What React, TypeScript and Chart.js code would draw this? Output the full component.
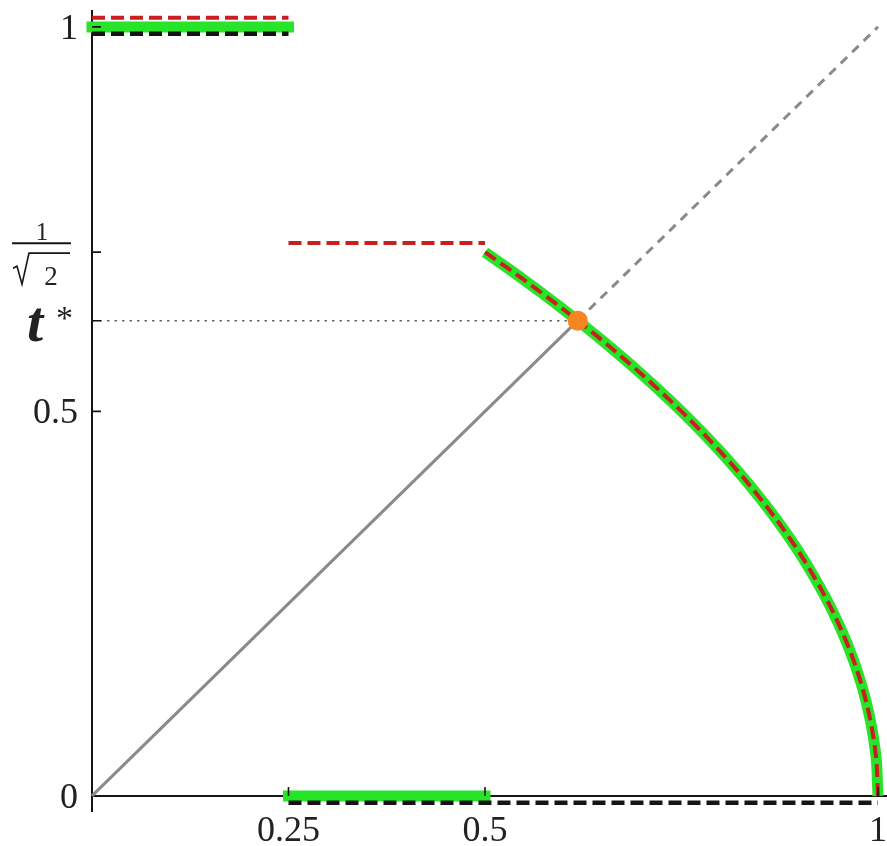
import { useEffect, useRef } from 'react';
import { Chart, registerables } from 'chart.js';

Chart.register(...registerables);

// Key values on the unit square
const T_STAR = 0.618;
const INV_SQRT2 = 0.7071;

// Piecewise-constant pieces
const upperX = [0, 0.25];
const upperY = [1, 1];
const middleX = [0.25, 0.5];
const redMiddleY = [INV_SQRT2, INV_SQRT2];
const greenMiddleY = [0, 0];
const blackTailX = [0.25, 1];
const blackTailY = [0, 0];

// Falling branch from (0.5, 1/√2) down to (1, 0)
const curveX = [0.5, 0.53, 0.56, 0.6, 0.618, 0.65, 0.7, 0.75, 0.8, 0.84, 0.88, 0.91, 0.94, 0.96, 0.975, 0.985, 0.992, 0.996, 0.9985, 1];
const curveY = [0.7071, 0.6856, 0.6633, 0.6325, 0.618, 0.5916, 0.5477, 0.5, 0.4472, 0.4, 0.3464, 0.3, 0.2449, 0.2, 0.1581, 0.1225, 0.0894, 0.0632, 0.0387, 0];

// Identity line, solid below the fixed point and dashed above it
const diagSolidX = [0, T_STAR];
const diagDashedX = [T_STAR, 1];

// Axis ticks
const xTickValues = [0.25, 0.5, 1];
const xTickLabels = ['0.25', '0.5', '1'];
const yTickValues = [0, 0.5, 1];
const yTickLabels = ['0', '0.5', '1'];
const ySpecialTicks = [T_STAR, INV_SQRT2];

// Small vertical separations so coincident pieces stay visible
const RED_LIFT = 0.012;
const BLACK_DROP = 0.009;

const pts = (xs: number[], ys: number[], dy = 0) => xs.map((x, i) => ({ x, y: ys[i] + dy }));

const GREEN = 'rgb(40,228,40)';
const RED = 'rgb(200,32,32)';
const BLACK = '#151515';
const GREY = '#8a8a8a';
const ORANGE = 'rgb(246,132,32)';

const SERIF = '"Liberation Serif", "DejaVu Serif", serif';

const axesPlugin = {
  id: 'handAxes',
  beforeDatasetsDraw(chart: any) {
    const { ctx, scales, chartArea } = chart;
    const xs = scales.x;
    const ys = scales.y;
    const x0 = xs.getPixelForValue(0);
    const y0 = ys.getPixelForValue(0);
    ctx.save();
    ctx.strokeStyle = BLACK;
    ctx.lineWidth = 2;
    ctx.beginPath();
    ctx.moveTo(x0, ys.getPixelForValue(1.022));
    ctx.lineTo(x0, ys.getPixelForValue(-0.021));
    ctx.moveTo(x0, y0);
    ctx.lineTo(chartArea.right, y0);
    ctx.stroke();
    ctx.restore();
  },
  afterDatasetsDraw(chart: any) {
    const { ctx, scales } = chart;
    const xs = scales.x;
    const ys = scales.y;
    const x0 = xs.getPixelForValue(0);
    const y0 = ys.getPixelForValue(0);
    ctx.save();
    ctx.strokeStyle = BLACK;
    ctx.lineWidth = 1.6;
    ctx.beginPath();
    xTickValues.forEach((v) => {
      const px = xs.getPixelForValue(v);
      ctx.moveTo(px, y0);
      ctx.lineTo(px, y0 - 9);
    });
    [...yTickValues.slice(1), ...ySpecialTicks].forEach((v) => {
      const py = ys.getPixelForValue(v);
      ctx.moveTo(x0, py);
      ctx.lineTo(x0 + 9, py);
    });
    ctx.stroke();

    ctx.fillStyle = '#222';
    ctx.font = `36px ${SERIF}`;
    ctx.textBaseline = 'alphabetic';
    ctx.textAlign = 'center';
    xTickValues.forEach((v, i) => {
      ctx.fillText(xTickLabels[i], xs.getPixelForValue(v), y0 + 45);
    });
    ctx.textAlign = 'right';
    yTickValues.forEach((v, i) => {
      ctx.fillText(yTickLabels[i], x0 - 14, ys.getPixelForValue(v) + 12);
    });

    // t* label
    const ty = ys.getPixelForValue(T_STAR);
    ctx.textAlign = 'left';
    ctx.font = `italic bold 58px ${SERIF}`;
    ctx.fillText('t', 27, ty + 20);
    ctx.font = `34px ${SERIF}`;
    ctx.fillText('*', 56, ty + 8);

    // 1/√2 label
    const fy = ys.getPixelForValue(INV_SQRT2);
    ctx.textAlign = 'center';
    ctx.font = `25px ${SERIF}`;
    ctx.fillText('1', 42, fy - 12);
    ctx.lineWidth = 2;
    ctx.beginPath();
    ctx.moveTo(12, fy - 9);
    ctx.lineTo(71, fy - 9);
    ctx.stroke();
    ctx.lineWidth = 1.6;
    ctx.beginPath();
    ctx.moveTo(13, fy + 16);
    ctx.lineTo(17, fy + 14);
    ctx.lineTo(22, fy + 32);
    ctx.lineTo(29, fy + 1);
    ctx.lineTo(70, fy + 1);
    ctx.stroke();
    ctx.font = `27px ${SERIF}`;
    ctx.fillText('2', 51, fy + 33);
    ctx.restore();
  },
};

export default function App() {
  const canvasRef = useRef<HTMLCanvasElement | null>(null);

  useEffect(() => {
    const canvas = canvasRef.current;
    if (!canvas) return;

    const lineBase = {
      pointRadius: 0,
      pointHoverRadius: 0,
      fill: false,
      clip: false as const,
    };

    const chart = new Chart(canvas, {
      type: 'line',
      data: {
        datasets: [
          {
            ...lineBase,
            label: 'fixed point',
            data: [{ x: T_STAR, y: T_STAR }],
            showLine: false,
            pointRadius: 10,
            pointBackgroundColor: ORANGE,
            pointBorderColor: ORANGE,
            pointBorderWidth: 0,
            order: 0,
          },
          {
            ...lineBase,
            label: 'red upper',
            data: pts(upperX, upperY, RED_LIFT),
            borderColor: RED,
            borderWidth: 4,
            borderDash: [13, 6],
            order: 1,
          },
          {
            ...lineBase,
            label: 'red middle',
            data: pts(middleX, redMiddleY, RED_LIFT),
            borderColor: RED,
            borderWidth: 4,
            borderDash: [13, 6],
            order: 1,
          },
          {
            ...lineBase,
            label: 'red curve',
            data: pts(curveX, curveY),
            borderColor: RED,
            borderWidth: 4,
            borderDash: [13, 6],
            cubicInterpolationMode: 'monotone' as const,
            order: 1,
          },
          {
            ...lineBase,
            label: 'black upper',
            data: pts(upperX, upperY, -BLACK_DROP),
            borderColor: BLACK,
            borderWidth: 4.5,
            borderDash: [13, 6],
            order: 2,
          },
          {
            ...lineBase,
            label: 'black tail',
            data: pts(blackTailX, blackTailY, -BLACK_DROP),
            borderColor: BLACK,
            borderWidth: 4.5,
            borderDash: [13, 6],
            order: 2,
          },
          {
            ...lineBase,
            label: 'green upper',
            data: pts(upperX, upperY),
            borderColor: GREEN,
            borderWidth: 11,
            borderCapStyle: 'square' as const,
            order: 3,
          },
          {
            ...lineBase,
            label: 'green middle',
            data: pts(middleX, greenMiddleY),
            borderColor: GREEN,
            borderWidth: 11,
            borderCapStyle: 'square' as const,
            order: 3,
          },
          {
            ...lineBase,
            label: 'green curve',
            data: pts(curveX, curveY),
            borderColor: GREEN,
            borderWidth: 11,
            borderCapStyle: 'butt' as const,
            cubicInterpolationMode: 'monotone' as const,
            order: 3,
          },
          {
            ...lineBase,
            label: 'diagonal solid',
            data: pts(diagSolidX, diagSolidX),
            borderColor: GREY,
            borderWidth: 3,
            order: 4,
          },
          {
            ...lineBase,
            label: 'diagonal dashed',
            data: pts(diagDashedX, diagDashedX),
            borderColor: GREY,
            borderWidth: 3,
            borderDash: [9, 7],
            order: 4,
          },
          {
            ...lineBase,
            label: 't* guide',
            data: [{ x: 0, y: T_STAR }, { x: T_STAR, y: T_STAR }],
            borderColor: '#666',
            borderWidth: 1.5,
            borderDash: [2.5, 5],
            order: 5,
          },
        ],
      },
      options: {
        animation: false,
        responsive: false,
        devicePixelRatio: 1,
        parsing: false as any,
        normalized: true,
        layout: { autoPadding: false, padding: { left: 92, right: 0, top: 0, bottom: 27 } },
        plugins: {
          legend: { display: false },
          tooltip: { enabled: false },
        },
        events: [],
        scales: {
          x: { type: 'linear', min: 0, max: 1.0115, display: false },
          y: { type: 'linear', min: -0.03, max: 1.035, display: false },
        },
      },
      plugins: [axesPlugin],
    });

    return () => chart.destroy();
  }, []);

  return (
    <div style={{ position: 'fixed', left: 0, top: 0, width: 887, height: 846, background: '#fff' }}>
      <canvas ref={canvasRef} width={887} height={846} />
    </div>
  );
}
